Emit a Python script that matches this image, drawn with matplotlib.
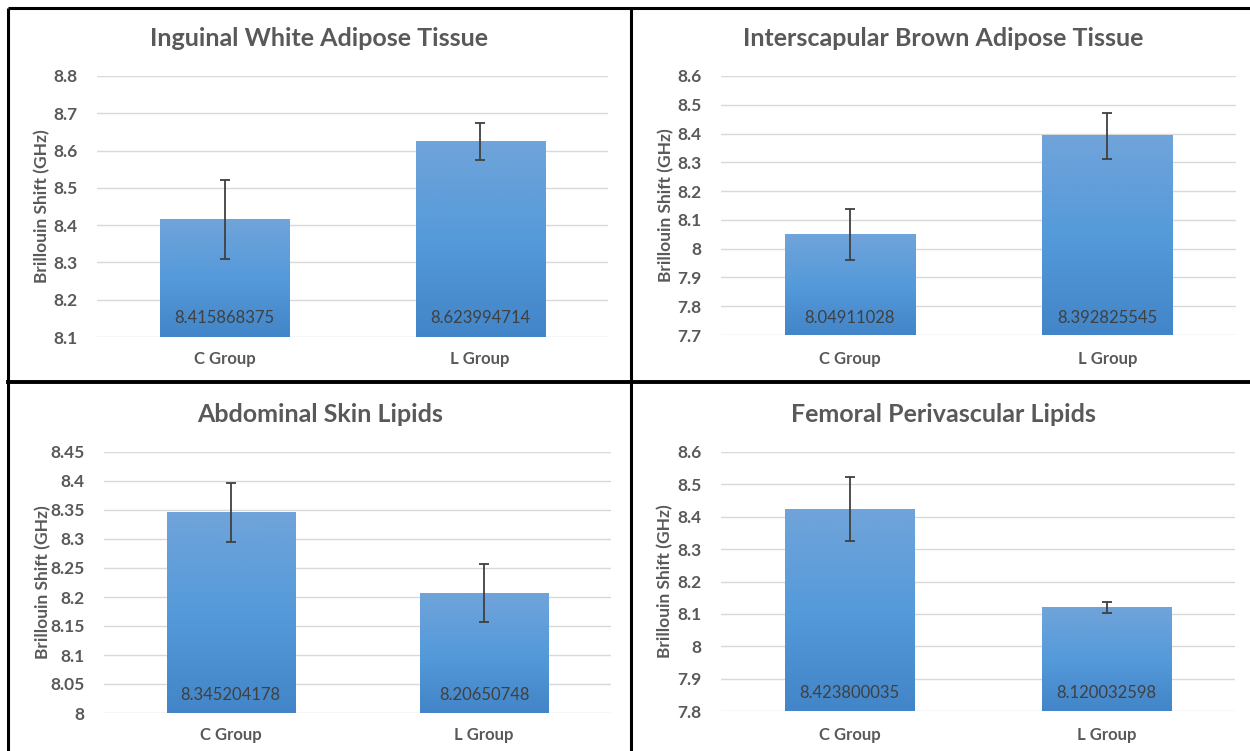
import numpy as np
import matplotlib
matplotlib.use('Agg')
import matplotlib.pyplot as plt
from matplotlib.colors import LinearSegmentedColormap

plt.rcParams['font.family'] = ['Lato', 'DejaVu Sans']

categories = ['C Group', 'L Group']

titles = ['Inguinal White Adipose Tissue', 'Interscapular Brown Adipose Tissue',
          'Abdominal Skin Lipids', 'Femoral Perivascular Lipids']

means_iwat = [8.415868375, 8.623994714]
means_ibat = [8.04911028, 8.392825545]
means_skin = [8.345204178, 8.20650748]
means_fem = [8.423800035, 8.120032598]

err_iwat = [0.106, 0.050]
err_ibat = [0.090, 0.080]
err_skin = [0.051, 0.050]
err_fem = [0.098, 0.017]

labels_iwat = ['8.415868375', '8.623994714']
labels_ibat = ['8.04911028', '8.392825545']
labels_skin = ['8.345204178', '8.20650748']
labels_fem = ['8.423800035', '8.120032598']

yticks_iwat = [8.1, 8.2, 8.3, 8.4, 8.5, 8.6, 8.7, 8.8]
yticks_ibat = [7.7, 7.8, 7.9, 8.0, 8.1, 8.2, 8.3, 8.4, 8.5, 8.6]
yticks_skin = [8.0, 8.05, 8.1, 8.15, 8.2, 8.25, 8.3, 8.35, 8.4, 8.45]
yticks_fem = [7.8, 7.9, 8.0, 8.1, 8.2, 8.3, 8.4, 8.5, 8.6]

W, H = 1250, 751
fig = plt.figure(figsize=(W / 100, H / 100), dpi=100)
fig.patch.set_facecolor('white')

grey = '#595959'
bar_cmap = LinearSegmentedColormap.from_list('bar', ['#4285c8', '#559ada', '#70a4da'])


def fmt(v):
    s = ('%.2f' % v).rstrip('0').rstrip('.')
    return s


def panel(rect_px, title, means, errs, labels, yticks, title_xy, cat_y, vlab_y, ylab_x):
    # rect_px: left, top, right, bottom in pixel coords (origin top-left)
    l, t, r, b = rect_px
    ax = fig.add_axes([l / W, 1 - b / H, (r - l) / W, (b - t) / H])
    ymin, ymax = yticks[0], yticks[-1]
    x = np.arange(len(categories))
    bw = 0.505
    grad = np.linspace(0, 1, 256).reshape(-1, 1)
    for xi, m in zip(x, means):
        ax.imshow(grad, extent=[xi - bw / 2, xi + bw / 2, ymin, m], origin='lower',
                  aspect='auto', cmap=bar_cmap, zorder=2)
    ax.errorbar(x, means, yerr=errs, fmt='none', ecolor='#404040', elinewidth=1.3,
                capsize=3.5, capthick=1.3, zorder=3)
    ax.set_xlim(-0.5, len(categories) - 0.5)
    ax.set_ylim(ymin, ymax)
    ax.set_yticks(yticks)
    ax.set_yticklabels([fmt(v) for v in yticks], fontsize=12.5, fontweight='bold', color=grey)
    ax.set_xticks([])
    ax.grid(axis='y', color='#d9d9d9', linewidth=1, zorder=0)
    ax.set_axisbelow(True)
    for s in ax.spines.values():
        s.set_visible(False)
    ax.tick_params(axis='y', length=0, pad=14)
    for xi, lab in zip(x, labels):
        px = l + (xi + 0.5) / len(categories) * (r - l)
        fig.text(px / W, 1 - vlab_y / H, lab, ha='center', va='center', fontsize=12,
                 color='#404040')
        fig.text(px / W, 1 - cat_y / H, categories[xi], ha='center', va='center',
                 fontsize=12, fontweight='bold', color=grey)
    fig.text(title_xy[0] / W, 1 - title_xy[1] / H, title, ha='center', va='center',
             fontsize=18, fontweight='bold', color=grey)
    fig.text(ylab_x / W, 1 - (t + b) / 2 / H, 'Brillouin Shift (GHz)', rotation=90,
             ha='center', va='center', fontsize=12.5, fontweight='bold', color=grey)
    return ax


panel((97, 76, 608, 337), titles[0], means_iwat, err_iwat, labels_iwat, yticks_iwat,
      (319, 39), 359, 318, 42)
panel((721, 76, 1236, 335), titles[1], means_ibat, err_ibat, labels_ibat, yticks_ibat,
      (943, 39), 359, 318, 666)
panel((104, 452, 611, 713), titles[2], means_skin, err_skin, labels_skin, yticks_skin,
      (320, 414), 735, 695, 43)
panel((721, 452, 1235, 711), titles[3], means_fem, err_fem, labels_fem, yticks_fem,
      (943, 414), 735, 693, 665)

# panel borders
border = fig.add_axes([0, 0, 1, 1], zorder=10)
border.set_xlim(0, W)
border.set_ylim(H, 0)
border.axis('off')
border.patch.set_alpha(0)
kw = dict(color='black', linewidth=2.2, solid_capstyle='butt')
border.plot([8, 1250], [8, 8], **kw)
border.plot([8, 8], [8, 751], **kw)
border.plot([631, 631], [8, 751], **kw)
border.plot([8, 1250], [381.5, 381.5], color='black', linewidth=2.8)

fig.savefig('out.png', dpi=100)
